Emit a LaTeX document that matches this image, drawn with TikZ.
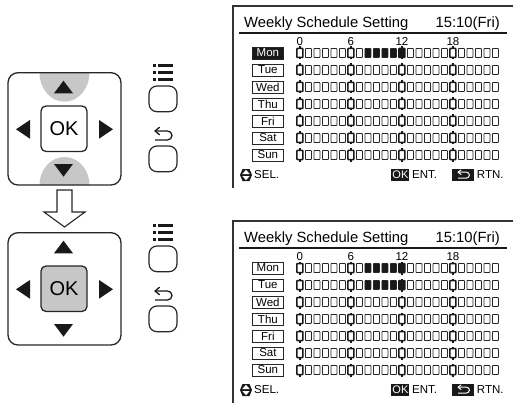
\documentclass[tikz,border=0pt]{standalone}
\usepackage{fontspec}
\setmainfont{Liberation Sans}
\begin{document}
\begin{tikzpicture}[x=1pt,y=-1pt]
\tikzset{
  edge/.style={draw=black!85, line width=1.3pt},
  capgray/.style={fill=black!22},
  tri/.style={fill=black!90},
  cellsty/.style={draw=black!85, line width=0.8pt, rounded corners=0.6pt},
  marksty/.style={draw=black!90, line width=1.5pt, rounded corners=0.6pt},
  daybox/.style={draw=black!85, line width=0.7pt, minimum width=31pt, minimum height=12pt, inner sep=0pt, font=\fontsize{11.5}{12}\selectfont},
  daysel/.style={daybox, fill=black!90, text=white},
  hourlbl/.style={inner sep=0pt, font=\fontsize{11.5}{12}\selectfont},
  ttl/.style={inner sep=0pt, font=\fontsize{14.8}{16}\selectfont},
  foot/.style={inner sep=0pt, font=\fontsize{11.5}{12}\selectfont},
  blackbox/.style={fill=black!90, text=white, inner sep=0pt, minimum height=12pt, font=\fontsize{11}{12}\selectfont},
  btn/.style={draw=black!85, line width=1.2pt, rounded corners=8pt},
}
\useasboundingbox (0,0) rectangle (513,406);

% ---------- remote controls ----------
\newcommand{\remotepic}[3]{% #1 y offset, #2 caps (1/0), #3 ok pressed (1/0)
\begin{scope}[shift={(0,#1)}]
  \ifnum#2=1
  \begin{scope}
    \clip[rounded corners=10pt] (8,72.7) rectangle (121,185);
    \fill[capgray] (64.5,72.7) ellipse [x radius=25pt, y radius=29pt];
    \fill[capgray] (64.5,185) ellipse [x radius=25pt, y radius=28pt];
  \end{scope}
  \fi
  \draw[edge, rounded corners=10pt] (8,72.7) rectangle (121,185);
  \ifnum#3=1
    \draw[edge, fill=black!22, rounded corners=5pt] (41,106) rectangle (87,151.5);
  \else
    \draw[edge, rounded corners=5pt] (41,106) rectangle (87,151.5);
  \fi
  \node[inner sep=0pt, font=\fontsize{20}{22}\selectfont] (ok#1) at (64,129) {OK};
  \fill[tri] (54,93.3) -- (73,93.3) -- (63.5,80.7) -- cycle;
  \fill[tri] (54,164) -- (73,164) -- (63.5,176.7) -- cycle;
  \fill[tri] (30,120) -- (30,138.7) -- (16,129.3) -- cycle;
  \fill[tri] (99,120) -- (99,138.7) -- (113,129.3) -- cycle;
  % menu icon
  \foreach \r in {65.5,72.5,79.5} {
    \fill[black!90] (152.8,\r-1.7) rectangle (156,\r+1.7);
    \fill[black!90] (158,\r-1.7) rectangle (173,\r+1.7);
  }
  \draw[btn] (149,86) rectangle (177,111.7);
  % return icon
  \draw[black!90, line width=1.3pt, line join=round] (155,131) -- (167.5,131) arc[start angle=90, end angle=-90, radius=4.5pt] -- (155,140);
  \draw[black!90, line width=1.3pt, line cap=round, line join=round] (159.5,127.3) -- (155,131) -- (159.5,134.7);
  \draw[btn] (149,146) rectangle (177,171.7);
\end{scope}
}
\remotepic{0}{1}{0}
\remotepic{160}{0}{1}

% down arrow between remotes
\draw[black!85, line width=1.1pt, fill=white, line join=miter] (57,190) -- (72,190) -- (72,212) -- (85,212) -- (64.5,227) -- (44,212) -- (57,212) -- cycle;

% ---------- screens ----------
\newcommand{\screenpic}[4]{% #1 y origin, #2 name prefix, #3 last filled row, #4 Mon selected
\begin{scope}[shift={(233,#1)}]
  \draw[black!80, line width=1.1pt] (0,182) -- (0,0) -- (280,0);
  \node[ttl, anchor=west] (#2title) at (11,18) {Weekly Schedule Setting};
  \node[ttl, anchor=east] (#2time) at (267,18) {15:10(Fri)};
  \draw[black!90, line width=1.8pt] (6,27) -- (274,27);
  \node[hourlbl] (#2h0) at (66.9,35.5) {0};
  \node[hourlbl] (#2h6) at (117.9,35.5) {6};
  \node[hourlbl] (#2h12) at (168.9,35.5) {12};
  \node[hourlbl] (#2h18) at (219.9,35.5) {18};
  \foreach \k/\d in {0/Mon,1/Tue,2/Wed,3/Thu,4/Fri,5/Sat,6/Sun} {
    \pgfmathsetmacro\cy{47+17*\k}
    \ifnum\k=0 \ifnum#4=1
      \node[daysel] (#2d\k) at (34.9,\cy) {\d};
    \else
      \node[daybox] (#2d\k) at (34.9,\cy) {\d};
    \fi
    \else
      \node[daybox] (#2d\k) at (34.9,\cy) {\d};
    \fi
    \foreach \i in {0,...,23} {
      \pgfmathsetmacro\cx{66.9+8.5*\i}
      \pgfmathtruncatemacro\isfill{((\k<=#3)&&(\i>=8)&&(\i<=12))?1:0}
      \pgfmathtruncatemacro\ismark{(mod(\i,6)==0)?1:0}
      \ifnum\ismark=1
        \ifnum\isfill=1
          \draw[marksty, fill=black!90] (\cx-3,\cy-4.5) rectangle (\cx+3,\cy+4.5);
        \else
          \draw[marksty, fill=white] (\cx-3,\cy-4.5) rectangle (\cx+3,\cy+4.5);
        \fi
        \fill[black!90] (\cx-1.4,\cy-6.5) rectangle (\cx+1.4,\cy-4);
        \fill[black!90] (\cx-1.4,\cy+4) rectangle (\cx+1.4,\cy+6.5);
      \else
        \ifnum\isfill=1
          \draw[cellsty, fill=black!90] (\cx-3,\cy-4.5) rectangle (\cx+3,\cy+4.5);
        \else
          \draw[cellsty] (\cx-3,\cy-4.5) rectangle (\cx+3,\cy+4.5);
        \fi
      \fi
    }
  }
  % footer
  \fill[black!90] (7,169) -- (9.5,163) -- (16.5,163) -- (19,169) -- (16.5,175) -- (9.5,175) -- cycle;
  \fill[white] (9.3,168) -- (16.7,168) -- (13,163.8) -- cycle;
  \fill[white] (9.3,170) -- (16.7,170) -- (13,174.2) -- cycle;
  \node[foot, anchor=west] (#2sel) at (21,169) {SEL.};
  \node[blackbox, minimum width=18pt] (#2okb) at (167.4,169) {OK};
  \node[foot, anchor=west] (#2ent) at (179,169) {ENT.};
  \fill[black!90] (218.7,163) rectangle (241,175);
  \draw[white, line width=1pt, line join=round] (225,166.2) -- (233.5,166.2) arc[start angle=90, end angle=-90, radius=2.9pt] -- (225,172);
  \draw[white, line width=1pt, line join=round, line cap=round] (228,163.9) -- (225,166.2) -- (228,168.5);
  \node[foot, anchor=west] (#2rtn) at (243.7,169) {RTN.};
\end{scope}
}
\screenpic{6}{a}{0}{1}
\screenpic{221}{b}{1}{0}
\end{tikzpicture}
\end{document}
